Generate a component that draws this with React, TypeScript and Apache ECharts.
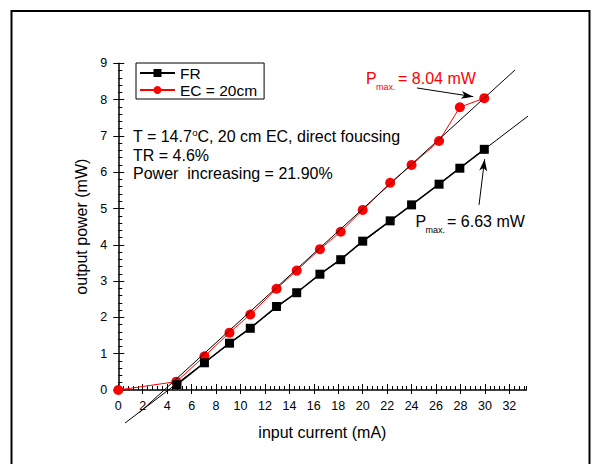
import React, { useEffect, useRef } from "react";
import * as echarts from "echarts";

// Measured output power vs. input current
const currentFR = [4.8, 7.05, 9.1, 10.8, 12.95, 14.6, 16.5, 18.2, 20.0, 22.25, 24.0, 26.25, 27.95, 29.95];
const powerFR = [0.15, 0.75, 1.29, 1.7, 2.3, 2.68, 3.19, 3.59, 4.1, 4.66, 5.1, 5.67, 6.11, 6.63];

const currentEC = [0, 4.75, 7.05, 9.1, 10.8, 12.95, 14.6, 16.5, 18.2, 20.0, 22.25, 24.0, 26.25, 27.95, 29.95];
const powerEC = [0, 0.23, 0.93, 1.58, 2.08, 2.79, 3.29, 3.88, 4.36, 4.96, 5.71, 6.2, 6.86, 7.79, 8.04];

// Linear fits through the lasing region (end points of the drawn fit lines)
const fitFRCurrent = [0.55, 34.6];
const fitFRPower = [-0.91, 7.82];
const fitECCurrent = [1.72, 32.46];
const fitECPower = [-0.625, 8.815];

// Arrows pointing at the maximum power points
const arrowEC = [[24.44, 8.32], [29.05, 8.08]];
const arrowFR = [[29.52, 5.1], [29.98, 6.36]];

const xMajorTicks = [0, 2, 4, 6, 8, 10, 12, 14, 16, 18, 20, 22, 24, 26, 28, 30, 32];
const yMajorTicks = [0, 1, 2, 3, 4, 5, 6, 7, 8, 9];

const legendNames = ["FR", "EC = 20cm"];

const FONT = "Arial, 'Liberation Sans', sans-serif";
const X_MAX = 33.4;
const Y_MAX = 9;

const zip = (xs: number[], ys: number[]) => xs.map((x, i) => [x, ys[i]]);

export default function App() {
  const ref = useRef<HTMLDivElement>(null);

  useEffect(() => {
    if (!ref.current) return;
    const chart = echarts.init(ref.current, undefined, { renderer: "svg" });

    const baseX = {
      type: "value" as const,
      min: 0,
      max: X_MAX,
      position: "bottom" as const,
      splitLine: { show: false },
    };
    const baseY = {
      type: "value" as const,
      min: 0,
      max: Y_MAX,
      position: "left" as const,
      splitLine: { show: false },
    };
    const tickStyle = { color: "#000", width: 1 };

    chart.setOption({
      animation: false,
      backgroundColor: "#fff",
      grid: { left: 118.3, top: 63.3, width: X_MAX * 12.22, height: Y_MAX * 36.3, containLabel: false },
      legend: {
        data: legendNames,
        orient: "vertical",
        left: 136,
        top: 63,
        itemWidth: 35,
        itemHeight: 10,
        itemGap: 1,
        padding: [2, 7, 1, 3],
        borderColor: "#000",
        borderWidth: 1,
        backgroundColor: "#fff",
        textStyle: { fontSize: 15.5, color: "#000", fontFamily: FONT },
        selectedMode: false,
      },
      xAxis: [
        {
          ...baseX,
          interval: 2,
          axisLine: { show: true, onZero: false, lineStyle: { color: "#000", width: 1.5 } },
          axisTick: { show: true, inside: false, length: 4, customValues: xMajorTicks, lineStyle: tickStyle },
          axisLabel: { customValues: xMajorTicks, color: "#000", fontSize: 12.5, fontFamily: FONT, margin: 9 },
          name: "input current (mA)",
          nameLocation: "middle",
          nameGap: 34,
          nameTextStyle: { fontSize: 16, color: "#000", fontFamily: FONT },
        },
        {
          ...baseX,
          interval: 2,
          axisLine: { show: false },
          axisTick: { show: true, inside: true, length: 6, customValues: xMajorTicks, lineStyle: tickStyle },
          axisLabel: { show: false },
        },
        {
          ...baseX,
          interval: 0.4,
          axisLine: { show: false },
          axisTick: { show: true, inside: true, length: 4, lineStyle: tickStyle },
          axisLabel: { show: false },
        },
      ],
      yAxis: [
        {
          ...baseY,
          interval: 1,
          axisLine: { show: true, onZero: false, lineStyle: { color: "#000", width: 1.5 } },
          axisTick: { show: true, inside: false, length: 5, customValues: yMajorTicks, lineStyle: tickStyle },
          axisLabel: { customValues: yMajorTicks, color: "#000", fontSize: 12.5, fontFamily: FONT, margin: 11 },
          name: "output power (mW)",
          nameLocation: "middle",
          nameGap: 27,
          nameTextStyle: { fontSize: 16, color: "#000", fontFamily: FONT },
        },
        {
          ...baseY,
          interval: 1,
          axisLine: { show: false },
          axisTick: { show: true, inside: true, length: 6, customValues: yMajorTicks, lineStyle: tickStyle },
          axisLabel: { show: false },
        },
        {
          ...baseY,
          interval: 0.2,
          axisLine: { show: false },
          axisTick: { show: true, inside: true, length: 4, lineStyle: tickStyle },
          axisLabel: { show: false },
        },
      ],
      series: [
        {
          name: "fit FR",
          type: "line",
          data: zip(fitFRCurrent, fitFRPower),
          symbol: "none",
          clip: false,
          silent: true,
          lineStyle: { color: "#000", width: 1 },
          z: 3,
        },
        {
          name: "fit EC",
          type: "line",
          data: zip(fitECCurrent, fitECPower),
          symbol: "none",
          clip: false,
          silent: true,
          lineStyle: { color: "#000", width: 1 },
          z: 3,
        },
        {
          name: "FR",
          type: "line",
          data: zip(currentFR, powerFR),
          symbol: "rect",
          symbolSize: 9,
          clip: false,
          color: "#000",
          itemStyle: { color: "#000" },
          lineStyle: { color: "#000", width: 1.5 },
          z: 4,
          markLine: {
            silent: true,
            symbol: ["none", "arrow"],
            symbolSize: [6, 12],
            label: { show: false },
            lineStyle: { color: "#000", width: 1, type: "solid" },
            data: [[{ coord: arrowFR[0] }, { coord: arrowFR[1] }]],
          },
        },
        {
          name: "EC = 20cm",
          type: "line",
          data: zip(currentEC, powerEC),
          symbol: "circle",
          symbolSize: 10,
          clip: false,
          color: "#ff0000",
          itemStyle: { color: "#ff0000" },
          lineStyle: { color: "#ff0000", width: 1 },
          z: 2,
          markLine: {
            silent: true,
            symbol: ["none", "arrow"],
            symbolSize: [6, 12],
            label: { show: false },
            lineStyle: { color: "#000", width: 1, type: "solid" },
            data: [[{ coord: arrowEC[0] }, { coord: arrowEC[1] }]],
          },
        },
      ],
      graphic: [
        {
          type: "rect",
          shape: { x: 11.5, y: 11, width: 578, height: 480 },
          style: { fill: "none", stroke: "#000", lineWidth: 2 },
          silent: true,
          z: -10,
        },
        {
          type: "text",
          x: 133,
          y: 136.5,
          style: {
            text: "{n|T = 14.7}{s|o}{n|C, 20 cm EC, direct foucsing}",
            verticalAlign: "middle",
            rich: {
              n: { fontSize: 16, fontFamily: FONT, fill: "#000", lineHeight: 18 },
              s: { fontSize: 9.5, fontFamily: FONT, fill: "#000", verticalAlign: "top", lineHeight: 18 },
            },
          },
        },
        {
          type: "text",
          x: 133,
          y: 155,
          style: { text: "TR = 4.6%", fontSize: 16, fontFamily: FONT, fill: "#000", verticalAlign: "middle" },
        },
        {
          type: "text",
          x: 133,
          y: 173.5,
          style: {
            text: "Power  increasing = 21.90%",
            fontSize: 16,
            fontFamily: FONT,
            fill: "#000",
            verticalAlign: "middle",
          },
        },
        // P_max. = 8.04 mW (red)
        {
          type: "text",
          x: 366,
          y: 78,
          style: { text: "P", fontSize: 16, fontFamily: FONT, fill: "#ff0000", verticalAlign: "middle" },
        },
        {
          type: "text",
          x: 376,
          y: 87,
          style: { text: "max.", fontSize: 9, fontFamily: FONT, fill: "#ff0000", verticalAlign: "middle" },
        },
        {
          type: "text",
          x: 398,
          y: 78,
          style: { text: "= 8.04 mW", fontSize: 16, fontFamily: FONT, fill: "#ff0000", verticalAlign: "middle" },
        },
        // P_max. = 6.63 mW (black)
        {
          type: "text",
          x: 415.5,
          y: 221,
          style: { text: "P", fontSize: 16, fontFamily: FONT, fill: "#000", verticalAlign: "middle" },
        },
        {
          type: "text",
          x: 425.5,
          y: 230,
          style: { text: "max.", fontSize: 9, fontFamily: FONT, fill: "#000", verticalAlign: "middle" },
        },
        {
          type: "text",
          x: 447,
          y: 221,
          style: { text: "= 6.63 mW", fontSize: 16, fontFamily: FONT, fill: "#000", verticalAlign: "middle" },
        },
      ],
    });

    return () => chart.dispose();
  }, []);

  return (
    <div
      ref={ref}
      style={{ position: "fixed", left: 0, top: 0, width: 600, height: 464, background: "#fff" }}
    />
  );
}
